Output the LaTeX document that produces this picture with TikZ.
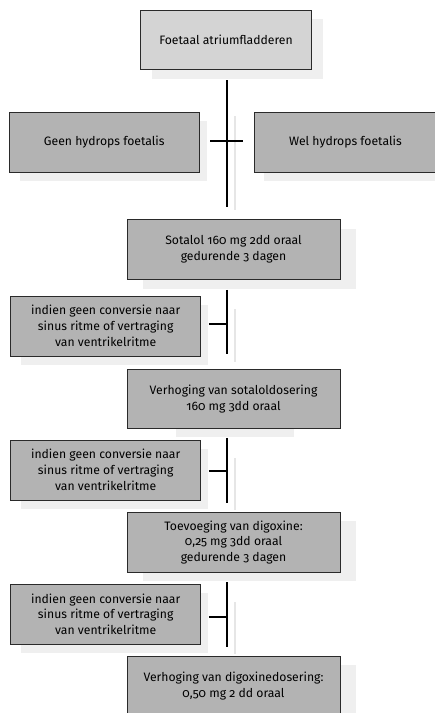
\documentclass[tikz,border=0pt]{standalone}
\usepackage{fontspec}
\setmainfont{Fira Sans}[Numbers=OldStyle]
\usetikzlibrary{calc}
\definecolor{boxlight}{HTML}{D4D4D4}
\definecolor{boxdark}{HTML}{B3B3B3}
\definecolor{shadowgray}{HTML}{EFEFEF}
\definecolor{trunkshadow}{HTML}{E6E6E6}
\definecolor{edge}{HTML}{2A2A2A}
\tikzset{
  flowbox/.style={draw=edge, line width=0.9pt, fill=boxdark, align=center,
    inner sep=0pt, font=\fontsize{12.2}{15.8}\selectfont, text=black},
  stepwide/.style={flowbox, minimum width=213pt, minimum height=60pt},
  sidebox/.style={flowbox, minimum width=190pt, minimum height=60pt},
  shade/.style={fill=shadowgray},
  trunk/.style={line width=2pt, black},
  trunkshade/.style={line width=2pt, trunkshadow},
}
\begin{document}
\begin{tikzpicture}[x=1pt, y=-1pt]
\useasboundingbox (0,0) rectangle (435,713);
% shadows behind the boxes
\fill[shade] (152,19) rectangle (322.7,78.7);
\fill[shade] (20,121) rectangle (206.7,180.7);
\fill[shade] (264,121) rectangle (440,180.7);
\fill[shade] (143,228.7) rectangle (356,288.7);
\fill[shade] (21,305) rectangle (208,364.7);
\fill[shade] (176,378) rectangle (294,436.7);
\fill[shade] (21,449) rectangle (208,509);
\fill[shade] (143,521) rectangle (356,580.7);
\fill[shade] (21,593) rectangle (208,653);
\fill[shade] (143,665) rectangle (356,720);
% shadows of the trunk lines
\draw[trunkshade] (235.3,116) -- (235.3,210);
\draw[trunkshade] (235.3,309) -- (235.3,362);
\draw[trunkshade] (235.3,458) -- (235.3,510);
\draw[trunkshade] (235.3,602) -- (235.3,654);
% boxes
\node[flowbox, fill=boxlight, minimum width=170.6pt, minimum height=59.3pt] (top) at (226,39.65) {Foetaal atriumfladderen};
\node[sidebox, minimum height=59.7pt] (geen) at (104.3,142.15) {Geen hydrops foetalis};
\node[flowbox, minimum width=181.4pt, minimum height=59.7pt] (wel) at (345.4,142.15) {Wel hydrops foetalis};
\node[stepwide] (sotalol) at (233.5,249.3) {Sotalol 160 mg 2dd oraal\\gedurende 3 dagen};
\node[sidebox] (cond1) at (105.7,326) {indien geen conversie naar\\sinus ritme of vertraging\\van ventrikelritme};
\node[stepwide, minimum height=59.7pt] (verhoging) at (233.5,398.85) {Verhoging van sotaloldosering\\160 mg 3dd oraal};
\node[sidebox] (cond2) at (105.7,470) {indien geen conversie naar\\sinus ritme of vertraging\\van ventrikelritme};
\node[stepwide, minimum height=59.6pt] (digoxine) at (233.5,542.5) {Toevoeging van digoxine:\\0,25 mg 3dd oraal\\gedurende 3 dagen};
\node[sidebox, minimum height=59.7pt] (cond3) at (105.7,614.15) {indien geen conversie naar\\sinus ritme of vertraging\\van ventrikelritme};
\node[stepwide] (final) at (233.5,686.3) {Verhoging van digoxinedosering:\\0,50 mg 2 dd oraal};
% trunk ends
\coordinate (t1a) at ($(top.south)+(0.7,10.7)$);
\coordinate (t1b) at (t1a |- 0,206.7);
\coordinate (t2a) at ($(sotalol.south)+(-6.8,10)$);
\coordinate (t2b) at (t2a |- 0,354);
\coordinate (t3a) at ($(verhoging.south)+(-6.8,8.6)$);
\coordinate (t3b) at (t3a |- 0,502.7);
\coordinate (t4a) at ($(digoxine.south)+(-6.8,9.7)$);
\coordinate (t4b) at (t4a |- 0,647.3);
% connectors
\draw[trunk] (t1a) -- (t1b);
\draw[trunk] ($(geen.east)+(10.7,-0.8)$) -- ($(wel.west)+(-11.6,-0.8)$);
\draw[trunk] (t2a) -- (t2b);
\draw[trunk] ($(cond1.east)+(7.6,-1.7)$) -- (t2a |- {$(cond1.east)+(0,-1.7)$});
\draw[trunk] (t3a) -- (t3b);
\draw[trunk] ($(cond2.east)+(7.6,0.7)$) -- (t3a |- {$(cond2.east)+(0,0.7)$});
\draw[trunk] (t4a) -- (t4b);
\draw[trunk] ($(cond3.east)+(7.6,3.2)$) -- (t4a |- {$(cond3.east)+(0,3.2)$});
\end{tikzpicture}
\end{document}
